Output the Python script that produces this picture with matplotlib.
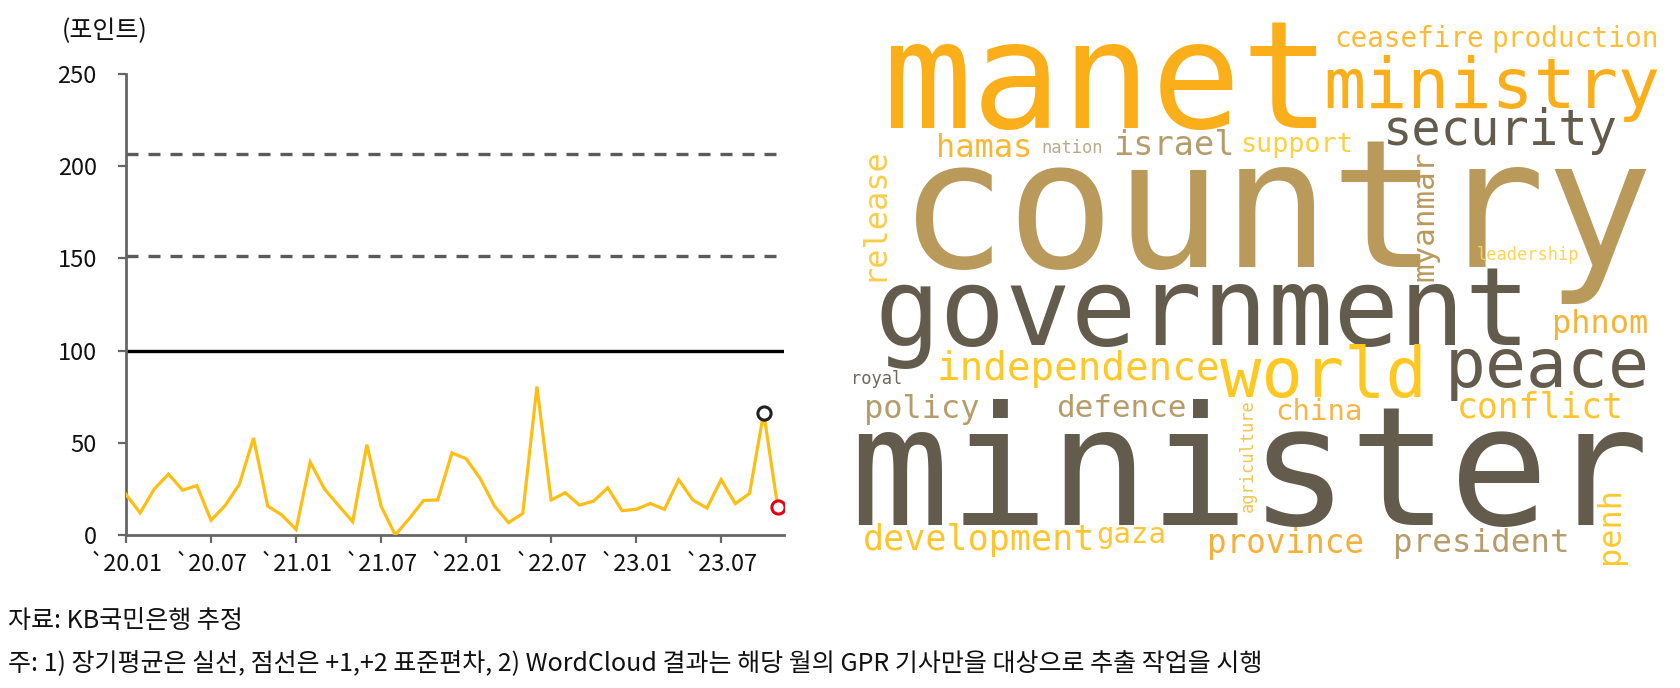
import matplotlib
matplotlib.use("Agg")
import matplotlib.pyplot as plt
import numpy as np

plt.rcParams['font.family'] = ['Noto Sans CJK KR', 'DejaVu Sans']

# ---------------- data ----------------
months = np.arange(47)  # 2020.01 .. 2023.11
gpr_values = [22, 12, 25, 33, 24.3, 26.8, 8, 16, 27.5, 52.6,
              15.7, 10.8, 3, 39.5, 25, 16, 7.2, 49, 15.7, 0,
              9, 18.7, 19, 44.5, 41.4, 30.6, 15.7, 6.7, 11.7, 80.5,
              19, 22.9, 16.2, 18.4, 25.6, 13.2, 13.9, 17.1, 13.9, 30,
              19, 14.6, 30, 17, 22.5, 66.3, 15]
long_term_mean = 100
sd_levels = [151.2, 206.5]
x_tick_pos = [0, 6, 12, 18, 24, 30, 36, 42]
x_tick_labels = ["`20.01", "`20.07", "`21.01", "`21.07", "`22.01", "`22.07", "`23.01", "`23.07"]
y_ticks = [0, 50, 100, 150, 200, 250]
y_unit = "(포인트)"
source_note = "자료: KB국민은행 추정"
footnote = "주: 1) 장기평균은 실선, 점선은 +1,+2 표준편차, 2) WordCloud 결과는 해당 월의 GPR 기사만을 대상으로 추출 작업을 시행"

# word cloud words
words = ["country", "minister", "manet", "government", "ministry", "peace", "world",
         "security", "independence", "development", "conflict", "israel", "president",
         "province", "hamas", "policy", "phnom", "release", "penh", "defence",
         "myanmar", "china", "gaza", "production", "ceasefire", "support",
         "nation", "royal", "leadership", "agriculture"]

# ---------------- layout / style (pixel space of the 1680x688 canvas) ----------------
W, H = 1680, 688
# (center x, baseline y, em px, rotation, color)
word_layout = {
    0: (1276.5, 267, 179, 0, "#B99A5B"),
    1: (1249, 525, 166, 0, "#635B4C"),
    2: (1106, 128, 149, 0, "#F9AE1A"),
    3: (1202.5, 345, 109, 0, "#635B4C"),
    4: (1492, 108, 70, 0, "#F9AE1A"),
    5: (1547.5, 387, 68, 0, "#635B4C"),
    6: (1323, 397, 68.7, 0, "#FEC820"),
    7: (1500, 145, 48.7, 0, "#635B4C"),
    8: (1078, 380, 39.3, 0, "#FEC829"),
    9: (979, 550, 35, 0, "#FDC52C"),
    10: (1540, 417, 34.7, 0, "#FCC42E"),
    11: (1174, 155, 33.6, 0, "#B59C6A"),
    12: (1481.5, 552, 32.5, 0, "#B59C6A"),
    13: (1285, 553, 32.6, 0, "#F6AF39"),
    14: (984, 157, 32, 0, "#F7B731"),
    15: (921.5, 418, 32, 0, "#B59C6A"),
    16: (1600, 333, 32, 0, "#F6B436"),
    17: (882, 213.5, 32, 90, "#F9CD4A"),
    18: (1619, 525, 32, 90, "#FDC92B"),
    19: (1121.5, 417, 31, 0, "#B59C6A"),
    20: (1433, 216, 31, 90, "#B99A5B"),
    21: (1319.5, 420, 29, 0, "#F6B545"),
    22: (1131.5, 543, 29, 0, "#FCC533"),
    23: (1575.5, 47, 27.9, 0, "#FAC03A"),
    24: (1409.5, 47, 27.6, 0, "#F9BA35"),
    25: (1297, 152, 26.8, 0, "#FDD03E"),
    26: (1072, 153, 17, 0, "#BBA888"),
    27: (877, 384, 17, 0, "#6F675A"),
    28: (1527.5, 260, 17, 0, "#FCD455"),
    29: (1253, 456, 17, 90, "#F6C34A"),
}

fig = plt.figure(figsize=(W / 100, H / 100), dpi=100)

# ---------------- line chart ----------------
x0, x1, yb, yt = 126, 783.5, 535, 74
ax = fig.add_axes([x0 / W, 1 - yb / H, (x1 - x0) / W, (yb - yt) / H])
ax.set_xlim(0, 46.4)
ax.set_ylim(0, 250)

ax.axhline(long_term_mean, color="black", lw=2.4, zorder=2)
for lvl in sd_levels:
    ax.axhline(lvl, color="#5A5A5A", lw=2.4, dashes=(3.6, 3.0), zorder=2)

ax.plot(months, gpr_values, color="#FDBE14", lw=2.3, zorder=3, solid_joinstyle="miter")
ax.plot(months[-2], gpr_values[-2], "o", ms=9.5, mfc="white", mec="#222222", mew=2.2, zorder=4)
ax.plot(months[-1], gpr_values[-1], "o", ms=9.5, mfc="white", mec="#E60012", mew=2.2, zorder=4)

for s in ["top", "right"]:
    ax.spines[s].set_visible(False)
for s in ["left", "bottom"]:
    ax.spines[s].set_color("#666666")
    ax.spines[s].set_linewidth(2)
ax.set_yticks(y_ticks)
ax.set_xticks(x_tick_pos)
ax.set_xticklabels(x_tick_labels)
ax.tick_params(axis="both", direction="out", length=6, width=1.6, color="#666666",
               labelsize=17, labelcolor="#111111")
ax.tick_params(axis="y", pad=15)
ax.tick_params(axis="x", pad=7)

fig.text(62 / W, 1 - 31 / H, y_unit, ha="left", va="center", fontsize=18, color="#111111")
fig.text(8 / W, 1 - 621 / H, source_note, ha="left", va="center", fontsize=18, color="#111111")
fig.text(8 / W, 1 - 663 / H, footnote, ha="left", va="center", fontsize=18, color="#111111")

# ---------------- word cloud ----------------
wax = fig.add_axes([0, 0, 1, 1])
wax.set_xlim(0, W)
wax.set_ylim(H, 0)
wax.axis("off")
wax.patch.set_alpha(0)
for i, w in enumerate(words):
    cx, by, em, rot, col = word_layout[i]
    wax.text(cx, by, w, fontsize=em * 0.72, color=col, family="DejaVu Sans Mono",
             ha="center", va="baseline", rotation=rot, rotation_mode="anchor")

fig.savefig("out.png", dpi=100)
